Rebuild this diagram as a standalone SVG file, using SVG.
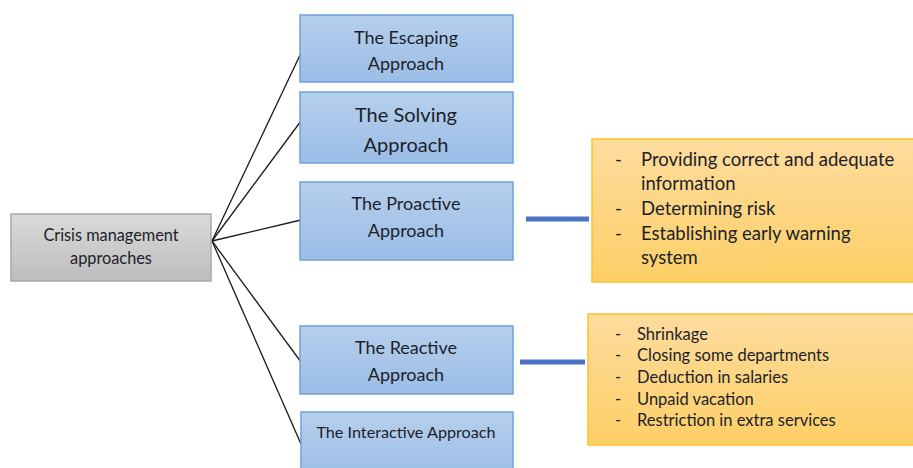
<svg xmlns="http://www.w3.org/2000/svg" width="913" height="468" viewBox="0 0 913 468">
<defs>
<linearGradient id="gBlue" x1="0" y1="0" x2="0" y2="1"><stop offset="0" stop-color="#b6cfec"/><stop offset="1" stop-color="#9bbde6"/></linearGradient>
<linearGradient id="gGray" x1="0" y1="0" x2="0" y2="1"><stop offset="0" stop-color="#dadada"/><stop offset="1" stop-color="#bdbdbd"/></linearGradient>
<linearGradient id="gOrange" x1="0" y1="0" x2="0" y2="1"><stop offset="0" stop-color="#fddc9e"/><stop offset="1" stop-color="#fdcf66"/></linearGradient>
</defs>
<style>
.blue{fill:url(#gBlue);stroke:#6fa2da;stroke-width:1.5}
.gray{fill:url(#gGray);stroke:#a8a8a8;stroke-width:1.5}
.orange{fill:url(#gOrange);stroke:#fcc22a;stroke-width:1.5}
text{font-family:Lato,"Open Sans","Liberation Sans",sans-serif;fill:#1c1f2a}
.c{text-anchor:middle}
.link{stroke:#1a1a1a;stroke-width:1.3;fill:none}
.bar{stroke:#4a73c4;stroke-width:5;fill:none}
</style>
<rect width="913" height="468" fill="#ffffff"/>
<g id="connectors">
<line class="link" x1="212" y1="241" x2="301" y2="53"/>
<line class="link" x1="212" y1="241" x2="301" y2="121"/>
<line class="link" x1="212" y1="241" x2="301" y2="220"/>
<line class="link" x1="212" y1="241" x2="301" y2="362"/>
<line class="link" x1="212" y1="241" x2="301" y2="444"/>
<line class="bar" x1="526" y1="219" x2="589" y2="219"/>
<line class="bar" x1="520" y1="362" x2="585" y2="362"/>
</g>
<g id="root">
<rect class="gray" x="11" y="214" width="200" height="67"/>
<text class="c" x="111" y="241" font-size="16.3">Crisis management</text>
<text class="c" x="111" y="264" font-size="16.3">approaches</text>
</g>
<g id="escaping">
<rect class="blue" x="300" y="15" width="213" height="67"/>
<text class="c" x="406" y="44" font-size="18">The Escaping</text>
<text class="c" x="406" y="70" font-size="18">Approach</text>
</g>
<g id="proactive">
<rect class="blue" x="300" y="182" width="213" height="78"/>
<text class="c" x="406" y="210" font-size="18">The Proactive</text>
<text class="c" x="406" y="237" font-size="18">Approach</text>
</g>
<g id="solving">
<rect class="blue" x="300" y="92" width="213" height="71"/>
<text class="c" x="406" y="122" font-size="20">The Solving</text>
<text class="c" x="406" y="152" font-size="20">Approach</text>
</g>
<g id="reactive">
<rect class="blue" x="300" y="326" width="213" height="68"/>
<text class="c" x="406" y="354" font-size="18">The Reactive</text>
<text class="c" x="406" y="381" font-size="18">Approach</text>
</g>
<g id="interactive">
<rect class="blue" x="301" y="412" width="212" height="70"/>
<text class="c" x="406" y="438" font-size="16.2">The Interactive Approach</text>
</g>
<g id="proactive-details">
<rect class="orange" x="592" y="139" width="330" height="143"/>
<g font-size="18.5">
<text x="615" y="166">-</text><text x="641" y="166">Providing correct and adequate</text>
<text x="641" y="190">information</text>
<text x="615" y="215">-</text><text x="641" y="215">Determining risk</text>
<text x="615" y="240">-</text><text x="641" y="240">Establishing early warning</text>
<text x="641" y="264">system</text>
</g>
</g>
<g id="reactive-details">
<rect class="orange" x="588" y="314" width="334" height="131"/>
<g font-size="16.5">
<text x="615" y="340">-</text><text x="637" y="340">Shrinkage</text>
<text x="615" y="361">-</text><text x="637" y="361">Closing some departments</text>
<text x="615" y="383">-</text><text x="637" y="383">Deduction in salaries</text>
<text x="615" y="405">-</text><text x="637" y="405">Unpaid vacation</text>
<text x="615" y="426">-</text><text x="637" y="426">Restriction in extra services</text>
</g>
</g>
</svg>
